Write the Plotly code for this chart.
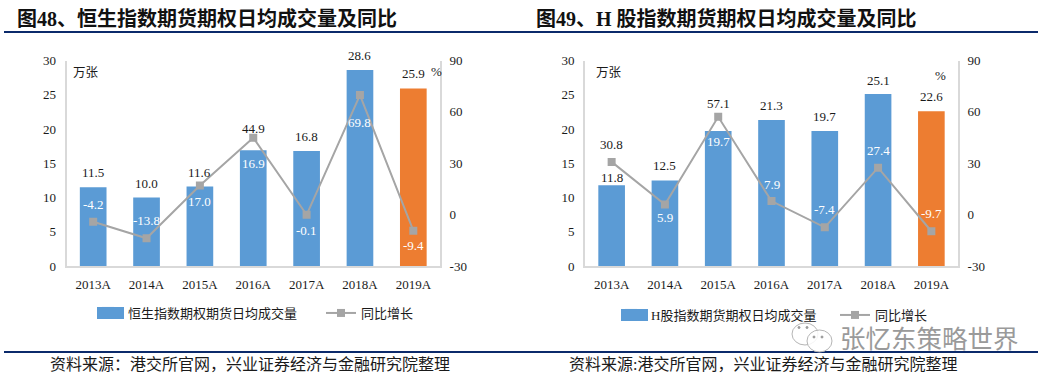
import plotly.graph_objects as go

W, H = 1055, 384
years = ["2013A", "2014A", "2015A", "2016A", "2017A", "2018A", "2019A"]
hsi_volume = [11.5, 10.0, 11.6, 16.9, 16.8, 28.6, 25.9]
hsi_growth = [-4.2, -13.8, 17.0, 44.9, -0.1, 69.8, -9.4]
h_volume = [11.8, 12.5, 19.7, 21.3, 19.7, 25.1, 22.6]
h_growth = [30.8, 5.9, 57.1, 7.9, -7.4, 27.4, -9.7]
left_ticks = [0, 5, 10, 15, 20, 25, 30]
right_ticks = [-30, 0, 30, 60, 90]
right_tick_labels = ["-30", "0", "30", "60", "90"]

# label offsets in px from the mark (+ up), per chart
hsi_bar_shift = [14.5, 14.5, 14.5, -13, 14.5, 14.5, 15]
hsi_bar_white = [False, False, False, True, False, False, False]
hsi_line_shift = [17.7, 17.6, -16, 9.5, -16, -27.4, -15]
hsi_line_white = [True, True, True, False, True, True, True]
h_bar_shift = [7.5, 14.7, -10, 14.4, 14.3, 14, 15]
h_bar_white = [False, False, True, False, False, False, False]
h_line_shift = [17.7, -12.7, 13, 17, 18, 17.7, 17.5]
h_line_white = [False, True, False, True, True, True, True]

SERIF = "Liberation Serif, Noto Sans CJK SC, serif"
INK = "#1a1a1a"
BLUE, ORANGE, GREY, AXIS, NAVY = "#5B9BD5", "#ED7D31", "#A5A5A5", "#D9D9D9", "#0B2A6B"


def px(x):
    return x / W


def py(y):
    return 1 - y / H


fig = go.Figure()
annotations = []
shapes = []


def note(text, x, y, size=13, color=INK, anchor="center", bold=False):
    annotations.append(dict(text=text, x=px(x), y=py(y), xref="paper", yref="paper",
                            showarrow=False, xanchor=anchor, yanchor="middle",
                            font=dict(family=SERIF, size=size, color=color,
                                      weight="bold" if bold else "normal")))


def rect(x0, x1, y0, y1, fill):
    shapes.append(dict(type="rect", xref="paper", yref="paper", x0=px(x0), x1=px(x1),
                       y0=py(y1), y1=py(y0), line_width=0, fillcolor=fill))


def oval(x0, x1, y0, y1, line="#b5b5b5", fill="rgba(255,255,255,0.85)"):
    shapes.append(dict(type="circle", xref="paper", yref="paper", x0=px(x0), x1=px(x1),
                       y0=py(y1), y1=py(y0), line=dict(color=line, width=1), fillcolor=fill))


def panel(idx, x0, x1, vol, gro, bar_name, legend, bshift, bwhite, lshift, lwhite):
    s2 = str(2 * idx + 2)
    xa, ya, ya2 = ("x" if idx == 0 else "x2"), ("y" if idx == 0 else "y3"), "y" + s2
    colors = [BLUE] * 6 + [ORANGE]
    fig.add_trace(go.Bar(x=years, y=vol, name=bar_name, marker=dict(color=colors, line_width=0),
                         xaxis=xa, yaxis=ya, legend=legend, width=0.5))
    fig.add_trace(go.Scatter(x=years, y=gro, name="同比增长", mode="lines+markers",
                             line=dict(color=GREY, width=2),
                             marker=dict(symbol="square", size=8, color=GREY),
                             xaxis=xa, yaxis=ya2, legend=legend))
    dom_y = [py(266), py(60.5)]
    xname = "xaxis" if idx == 0 else "xaxis2"
    yname = "yaxis" if idx == 0 else "yaxis3"
    tick = dict(family=SERIF, size=13, color=INK)
    fig.update_layout({
        xname: dict(domain=[px(x0), px(x1)], anchor=ya, showgrid=False, tickfont=tick,
                    showline=True, linecolor=AXIS, linewidth=2, ticks="", ticklabelstandoff=5,
                    type="category", range=[-0.5, 6.5], automargin=False),
        yname: dict(domain=dom_y, anchor=xa, range=[0, 30], tickvals=left_ticks, showgrid=False,
                    zeroline=False, showline=True, linecolor=AXIS, linewidth=2, tickfont=tick,
                    ticks="", ticklabelstandoff=6, automargin=False),
        "yaxis" + s2: dict(domain=dom_y, anchor=xa, overlaying=ya, side="right", range=[-30, 90],
                           tickvals=right_ticks, ticktext=right_tick_labels, showgrid=False,
                           zeroline=False, showline=True, linecolor=AXIS, linewidth=2,
                           tickfont=tick, ticks="", ticklabelstandoff=5, automargin=False),
    })
    for i, yr in enumerate(years):
        annotations.append(dict(text=f"{vol[i]:.1f}", x=yr, y=vol[i], xref=xa, yref=ya,
                                yshift=bshift[i], showarrow=False, yanchor="middle",
                                font=dict(family=SERIF, size=13, color="white" if bwhite[i] else INK)))
        annotations.append(dict(text=f"{gro[i]:.1f}", x=yr, y=gro[i], xref=xa, yref=ya2,
                                yshift=lshift[i], showarrow=False, yanchor="middle",
                                font=dict(family=SERIF, size=13, color="white" if lwhite[i] else INK)))


panel(0, 66.5, 440, hsi_volume, hsi_growth, "恒生指数期权期货日均成交量", "legend",
      hsi_bar_shift, hsi_bar_white, hsi_line_shift, hsi_line_white)
panel(1, 585, 958, h_volume, h_growth, "H股指数期货期权日均成交量", "legend2",
      h_bar_shift, h_bar_white, h_line_shift, h_line_white)

# titles, units, sources
note("图48、恒生指数期货期权日均成交量及同比", 15, 18, size=20, color="#111111", anchor="left", bold=True)
note("图49、H 股指数期货期权日均成交量及同比", 534, 18, size=20, color="#111111", anchor="left", bold=True)
note("万张", 86, 73, size=12.5)
note("万张", 609, 73, size=12.5)
note("%", 436, 71, size=13)
note("%", 940, 75, size=13)
note("资料来源：港交所官网，兴业证券经济与金融研究院整理", 48, 364, size=16, anchor="left")
note("资料来源:港交所官网，兴业证券经济与金融研究院整理", 567, 364, size=16, anchor="left")
note("张忆东策略世界", 838, 339, size=25.5, color="#9a9a9a", anchor="left")

for (a, b, y) in [(4, 527, 32), (527, 1038, 32), (4, 527, 352), (527, 1038, 352)]:
    shapes.append(dict(type="line", xref="paper", yref="paper", x0=px(a), x1=px(b),
                       y0=py(y), y1=py(y), line=dict(color=NAVY, width=2.2)))

# legend bar swatches at the reference's wider size
rect(97, 124, 307, 319, BLUE)
rect(621, 648, 309, 321, BLUE)

# watermark icon
oval(792, 818, 323, 345)
oval(807, 832, 330, 352)
for (a, b) in [(798, 326.5), (806, 326.5), (813, 336), (821, 336)]:
    oval(a, a + 2, b, b + 2, line="#999999", fill="#999999")

legend_base = dict(orientation="h", xanchor="left", yanchor="middle", bgcolor="rgba(0,0,0,0)",
                   font=dict(family=SERIF, size=13, color=INK), itemwidth=30,
                   entrywidthmode="pixels")
fig.update_layout(
    width=W, height=H, margin=dict(l=0, r=0, t=0, b=0, autoexpand=False), showlegend=True,
    paper_bgcolor="white", plot_bgcolor="white", barmode="overlay",
    annotations=annotations, shapes=shapes,
    legend=dict(legend_base, x=px(88), y=py(313), entrywidth=188),
    legend2=dict(legend_base, x=px(611), y=py(315), entrywidth=179),
)
fig.write_html("out.html", config={"displayModeBar": False},
               post_script="document.body.style.margin='0';")
